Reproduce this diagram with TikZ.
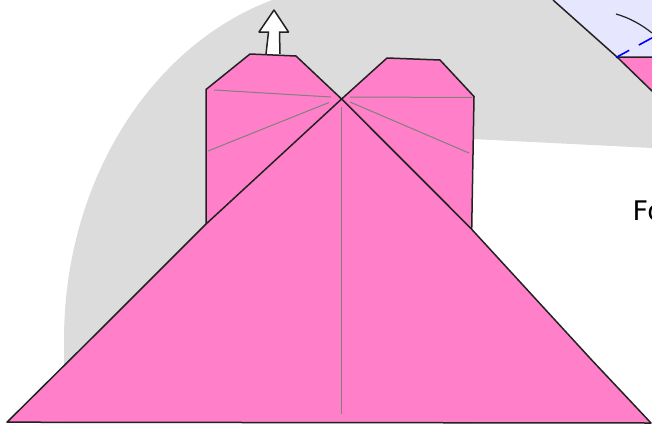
\documentclass[tikz,border=0pt]{standalone}
\usepackage{fontspec}
\setmainfont{DejaVu Sans}
\definecolor{pinkf}{HTML}{FF7FC9}
\definecolor{greyf}{HTML}{DCDCDC}
\definecolor{bluef}{HTML}{E6E6FF}
\definecolor{inkc}{HTML}{222222}
\tikzset{
  outl/.style={draw=inkc,line width=1.5pt,line join=round},
  pinkp/.style={outl,fill=pinkf},
  crease/.style={draw=gray,line width=1pt}
}
\begin{document}
\begin{tikzpicture}[x=1pt,y=-1pt]
\useasboundingbox (0,0) rectangle (652,423);
\clip (0,0) rectangle (652,423);
\fill[greyf] (64,423) -- (64,340) arc[start angle=180,end angle=270,x radius=296.5,y radius=356] -- (652,-16) -- (652,148) -- (472,139) -- (472,423) -- cycle;
\fill[bluef] (553,0) -- (617,57) -- (652,91) -- (652,0) -- cycle;
\draw[pinkp] (617,57) -- (652,91) -- (660,91) -- (660,57) -- cycle;
\draw[outl] (553,0) -- (617,57);
\draw[outl,line width=1.2pt] (616,14) .. controls (630,18) and (642,25) .. (652,33);
\draw[draw=blue,line width=1.6pt,dash pattern=on 15pt off 11pt] (616,57.5) -- (660,33.5);
\draw[outl,fill=white] (266,54) -- (268.5,32) -- (259,32) -- (274,10) -- (288.5,32) -- (279.5,32) -- (280,54);
\draw[pinkp] (206,225) -- (206,89.5) -- (250,54) -- (296,56) -- (341.6,99) -- (471.7,229.3) -- cycle;
\draw[pinkp] (341.6,99) -- (387,58) -- (440,60) -- (474,96.5) -- (471.7,229.3) -- cycle;
\draw[pinkp] (7,422.2) -- (100,330) -- (205,225) -- (341.6,99) -- (471.7,229.3) -- (591.7,360) -- (651,423) -- cycle;
\draw[crease] (214,90) -- (331,97);
\draw[crease] (208,151) -- (329,102.5);
\draw[crease] (350,97) -- (472,97.5);
\draw[crease] (350,102) -- (469,153);
\draw[crease] (341.5,107) -- (341.5,414);
\node[anchor=base west,inner sep=0pt,font=\fontsize{27pt}{30pt}\selectfont,text=black] (fo) at (632.5,220) {Fo};
\end{tikzpicture}
\end{document}
